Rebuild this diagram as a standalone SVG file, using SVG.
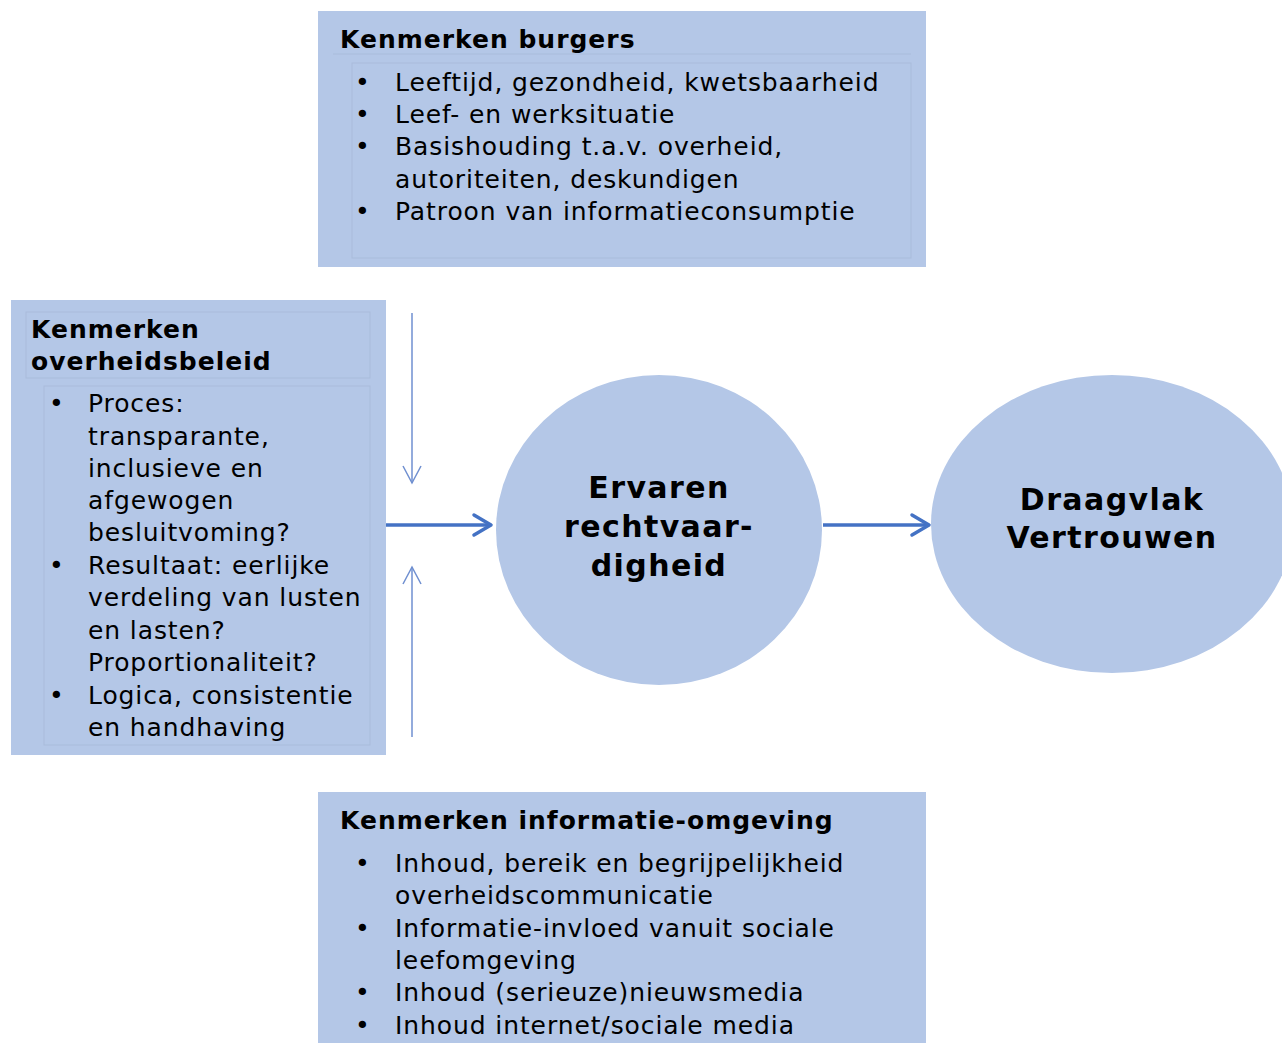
<svg xmlns="http://www.w3.org/2000/svg" width="1282" height="1043" viewBox="0 0 1282 1043">
<style>
.box{fill:#b4c7e7}
.inner{fill:none;stroke:#a9bcdb;stroke-width:1}
.t{font-family:"DejaVu Sans",Verdana,sans-serif;font-size:25px;letter-spacing:0.9px;fill:#000}
.b{font-weight:bold;letter-spacing:1px}
.c{font-family:"DejaVu Sans",Verdana,sans-serif;font-size:30px;font-weight:bold;letter-spacing:1.4px;fill:#000;text-anchor:middle}
.ell{fill:#b4c7e7}
.thick{stroke:#4472c4;stroke-width:3.5;fill:none}
.thin{stroke:#6f8fd0;stroke-width:1.5;fill:none}
</style>
<rect width="1282" height="1043" fill="#fff"/>
<g id="burgers">
<rect class="box" x="318" y="11" width="608" height="256"/>
<line class="inner" x1="333" y1="54" x2="911" y2="54"/>
<rect class="inner" x="352" y="63" width="559" height="195"/>
<text class="t b" x="340" y="48">Kenmerken burgers</text>
<text class="t" x="355" y="91">•</text><text class="t" x="395" y="91">Leeftijd, gezondheid, kwetsbaarheid</text>
<text class="t" x="355" y="123">•</text><text class="t" x="395" y="123">Leef- en werksituatie</text>
<text class="t" x="355" y="155">•</text><text class="t" x="395" y="155">Basishouding t.a.v. overheid,</text>
<text class="t" x="395" y="188">autoriteiten, deskundigen</text>
<text class="t" x="355" y="220">•</text><text class="t" x="395" y="220">Patroon van informatieconsumptie</text>
</g>
<g id="overheidsbeleid">
<rect class="box" x="11" y="300" width="375" height="455"/>
<rect class="inner" x="26" y="312" width="344" height="66"/>
<rect class="inner" x="44" y="386" width="326" height="359"/>
<text class="t b" x="31" y="338">Kenmerken</text>
<text class="t b" x="31" y="370">overheidsbeleid</text>
<text class="t" x="49" y="412">•</text><text class="t" x="88" y="412">Proces:</text>
<text class="t" x="88" y="445">transparante,</text>
<text class="t" x="88" y="477">inclusieve en</text>
<text class="t" x="88" y="509">afgewogen</text>
<text class="t" x="88" y="541">besluitvoming?</text>
<text class="t" x="49" y="574">•</text><text class="t" x="88" y="574">Resultaat: eerlijke</text>
<text class="t" x="88" y="606">verdeling van lusten</text>
<text class="t" x="88" y="639">en lasten?</text>
<text class="t" x="88" y="671">Proportionaliteit?</text>
<text class="t" x="49" y="704">•</text><text class="t" x="88" y="704">Logica, consistentie</text>
<text class="t" x="88" y="736">en handhaving</text>
</g>
<g id="informatie">
<rect class="box" x="318" y="792" width="608" height="251"/>
<text class="t b" x="340" y="829">Kenmerken informatie-omgeving</text>
<text class="t" x="355" y="872">•</text><text class="t" x="395" y="872">Inhoud, bereik en begrijpelijkheid</text>
<text class="t" x="395" y="904">overheidscommunicatie</text>
<text class="t" x="355" y="937">•</text><text class="t" x="395" y="937">Informatie-invloed vanuit sociale</text>
<text class="t" x="395" y="969">leefomgeving</text>
<text class="t" x="355" y="1001">•</text><text class="t" x="395" y="1001">Inhoud (serieuze)nieuwsmedia</text>
<text class="t" x="355" y="1034">•</text><text class="t" x="395" y="1034">Inhoud internet/sociale media</text>
</g>
<g id="rechtvaardigheid">
<ellipse class="ell" cx="659" cy="530" rx="163" ry="155"/>
<text class="c" x="659" y="498">Ervaren</text>
<text class="c" x="659" y="537">rechtvaar-</text>
<text class="c" x="659" y="576">digheid</text>
</g>
<g id="draagvlak">
<ellipse class="ell" cx="1112" cy="524" rx="181" ry="149"/>
<text class="c" x="1112" y="510">Draagvlak</text>
<text class="c" x="1112" y="548">Vertrouwen</text>
</g>
<g id="connectors">
<line class="thick" x1="386" y1="525" x2="490" y2="525"/>
<polyline class="thick" points="474,515 491,525 474,535" stroke-linecap="round" stroke-linejoin="round"/>
<line class="thick" x1="823" y1="525" x2="928" y2="525"/>
<polyline class="thick" points="912,515 929,525 912,535" stroke-linecap="round" stroke-linejoin="round"/>
<line class="thin" x1="412" y1="313" x2="412" y2="483"/>
<polyline class="thin" points="403,466 412,483 421,466"/>
<line class="thin" x1="412" y1="737" x2="412" y2="567"/>
<polyline class="thin" points="403,584 412,567 421,584"/>
</g>
</svg>
